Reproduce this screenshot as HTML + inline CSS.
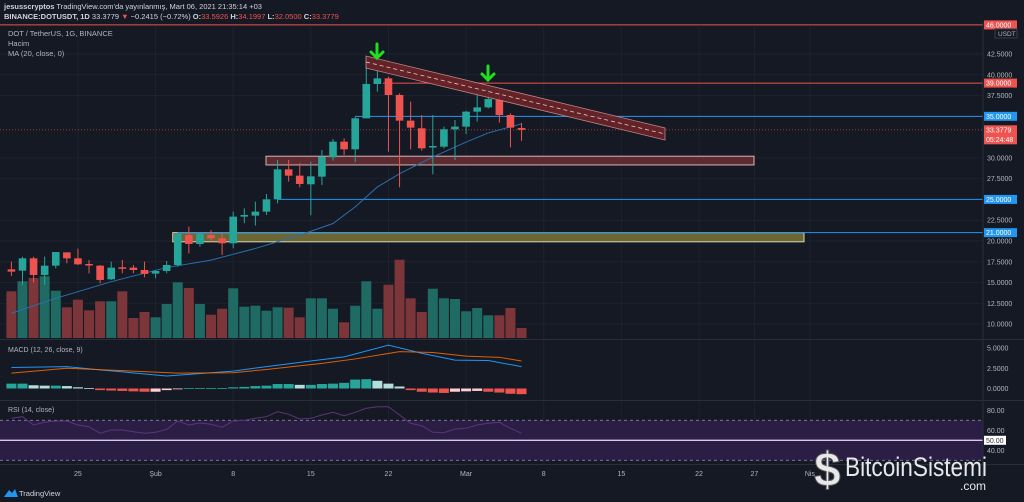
<!DOCTYPE html>
<html><head><meta charset="utf-8"><style>
html,body{margin:0;padding:0;background:#151924;width:1024px;height:502px;overflow:hidden}
svg{display:block;font-family:"Liberation Sans",sans-serif}
</style></head><body>
<svg id="c" width="1024" height="502" viewBox="0 0 1024 502" xmlns="http://www.w3.org/2000/svg">
<rect x="0" y="0" width="1024" height="502" fill="#151924"/>
<g id="grid"></g>
<text x="4" y="9" font-size="7.5" fill="#d1d4dc"><tspan font-weight="bold">jesusscryptos</tspan> TradingView.com'da yayınlanmış, Mart 06, 2021 21:35:14 +03</text>
<text x="4" y="19" font-size="7.5" fill="#d1d4dc" font-weight="bold">BINANCE:DOTUSDT, 1D <tspan font-weight="normal">33.3779</tspan> <tspan fill="#ef5350">▼</tspan> <tspan font-weight="normal">−0.2415 (−0.72%)</tspan> O:<tspan fill="#ef5350" font-weight="normal">33.5926</tspan> H:<tspan fill="#ef5350" font-weight="normal">34.1997</tspan> L:<tspan fill="#ef5350" font-weight="normal">32.0500</tspan> C:<tspan fill="#ef5350" font-weight="normal">33.3779</tspan></text>
<text x="8" y="36" font-size="7.5" fill="#b2b5be">DOT / TetherUS, 1G, BINANCE</text>
<text x="8" y="46" font-size="7.5" fill="#b2b5be">Hacim</text>
<text x="8" y="56" font-size="7.5" fill="#b2b5be">MA (20, close, 0)</text>
<g id="draw"></g>
<line x1="983" y1="22" x2="983" y2="480" stroke="#2a2e39" stroke-width="1"/>
<line x1="0" y1="339.5" x2="1024" y2="339.5" stroke="#2a2e39"/>
<line x1="0" y1="400.5" x2="1024" y2="400.5" stroke="#2a2e39"/>
<line x1="0" y1="464.5" x2="1024" y2="464.5" stroke="#2a2e39"/>
<text x="8" y="352" font-size="7" fill="#b2b5be">MACD (12, 26, close, 9)</text>
<text x="8" y="412" font-size="7" fill="#b2b5be">RSI (14, close)</text>
<g><path d="M4 497 L9 490 L12 493 L15 489 L18 497 Z" fill="#2196f3"/><text x="19" y="496" font-size="7.5" fill="#d1d4dc">TradingView</text></g>
<g id="wm">
<text x="814" y="486" font-size="48" font-weight="bold" fill="#e8e8ec" stroke="#555" stroke-width="1">$</text>
<text x="845" y="476" font-size="27" fill="#e8e8ec" textLength="142" lengthAdjust="spacingAndGlyphs">BitcoinSistemi</text>
<text x="960" y="490" font-size="12" fill="#e8e8ec">.com</text>
</g>
</svg>
<script>
const opens=[16.59,16.43,17.91,15.91,17.03,18.63,17.91,17.23,17.03,15.39,16.83,16.79,16.51,16.07,16.39,17.11,20.72,19.64,20.72,20.32,19.72,22.93,23.05,23.53,25.01,28.62,27.86,26.82,27.74,30.07,31.95,31.03,34.76,38.89,39.57,37.57,34.48,33.56,31.27,31.35,33.44,33.76,35.56,36.08,36.97,35.16,33.5926];
const highs=[17.51,18.11,18.11,18.11,18.67,18.63,19.08,17.71,17.11,17.51,17.71,17.11,17.51,16.51,17.59,21.0,21.72,21.0,21.32,20.92,23.53,23.93,24.73,25.66,29.75,29.75,29.35,29.55,30.95,32.27,32.35,34.96,42.2,40.58,39.77,37.77,36.77,35.16,35.16,33.76,34.56,35.68,37.77,38.57,38.25,35.36,34.1997];
const lows=[15.79,14.71,14.99,14.71,16.71,17.31,17.11,16.11,14.91,15.31,16.11,16.11,15.63,15.51,16.11,16.91,18.52,19.32,19.92,18.32,19.12,22.13,21.85,23.13,24.53,27.14,26.46,23.09,26.74,29.67,30.35,29.47,34.76,37.97,30.75,26.46,31.03,30.87,28.02,31.15,29.75,32.88,34.36,35.96,34.24,31.27,32.05];
const closes=[16.31,17.91,15.91,17.03,18.67,17.91,17.19,17.07,15.31,16.79,16.67,16.51,16.03,16.39,17.11,20.84,19.64,20.84,20.32,19.72,22.93,23.13,23.53,25.01,28.62,27.86,26.86,27.78,30.15,31.95,31.03,34.76,38.89,39.57,37.57,34.48,33.64,31.15,31.43,33.44,33.76,35.56,36.08,37.09,35.16,33.64,33.3779];
const volumes=[46.7,56.7,60,61.7,47.3,30.7,38.3,27.7,36.7,36.7,46.7,20,26,20.7,34,55.7,50,34,23.3,29.3,49.7,31.3,32.3,27.3,30.7,30.3,20.7,39.7,39.7,29.3,15.7,32.3,56.7,29.3,53.3,78.3,39.7,26,49.3,39.7,39,26.7,30,22.7,22.7,30,10];
const maIdx=[0,4,9,14,18,22,26,29,31,33,35,38,41,43,46];
const maVals=[11.3,13.1,15.1,16.8,17.7,19.1,20.7,22.1,24.1,26.5,28.1,30.1,31.9,33.0,34.1];
const macdIdx=[0,5,8,14,20,23,27,30,34,37,40,43,46];
const macdVals=[2.6,2.7,2.3,1.55,2.15,2.7,3.4,3.9,5.35,4.35,3.5,3.45,2.7];
const sigIdx=[0,5,10,15,20,23,28,31,35,38,41,44,46];
const sigVals=[1.9,2.5,2.2,1.9,1.95,2.35,3.1,3.65,4.55,4.45,4.0,3.85,3.4];
const histVals=[0.6,0.6,0.4,0.35,0.35,0.3,0.15,0.05,-0.2,-0.25,-0.3,-0.35,-0.4,-0.4,-0.2,-0.1,0.05,0.05,0.05,0.05,0.15,0.2,0.3,0.35,0.55,0.55,0.45,0.45,0.55,0.6,0.7,1.1,1.15,0.95,0.6,0.25,-0.2,-0.4,-0.5,-0.55,-0.4,-0.35,-0.3,-0.4,-0.5,-0.65,-0.7];
const rsiVals=[72,73.6,65.3,68,69.3,69.3,65.3,63.6,57,60.3,60.3,58.6,57,58,61,69.3,65.3,67.3,66,63,69.3,70,72,73.6,78.6,76,71.3,72,75.3,78,74.6,78,82,83.6,83.6,75.3,67,64.6,58,57.6,61.3,62,65.3,67,68,62,57];
const priceTicks=[42.5,40,37.5,30,27.5,22.5,20,17.5,15,12.5,10];
const macdTicks=[5,2.5,0];
const rsiTicks=[80,60,40];
const timeLabels=["25","Şub","8","15","22","Mar","8","15","22","27","Nis"];
const timeIdx=[6,13,20,27,34,41,48,55,62,67,72];
const levelVals=[46,39,35,25,21];
const levelColors=["#ef5350","#ef5350","#2196f3","#2196f3","#2196f3"];
const levelStartIdx=[-2,33.5,31,24,15];

const X=i=>11.4+i*11.09;
const Y=p=>54+(42.5-p)*8.31;
const YV=v=>338-v;
const YM=v=>388.5-v*8.1;
const YR=v=>490.3-v;
const NS="http://www.w3.org/2000/svg";
const g=document.getElementById('draw');
const grid=document.getElementById('grid');
function mk(t,a,p){const e=document.createElementNS(NS,t);for(const k in a)e.setAttribute(k,a[k]);(p||g).appendChild(e);return e;}

timeIdx.forEach((ti)=>{const l=mk('line',{x1:X(ti),x2:X(ti),y1:27,y2:464,stroke:'#1e222d'},grid);

});
priceTicks.forEach(p=>{const l=mk('line',{x1:0,x2:983,y1:Y(p),y2:Y(p),stroke:'#1e222d'},grid);

});

const band=mk('rect',{x:0,y:YR(70),width:983,height:YR(30)-YR(70),fill:'#2a1e45'});


[70,30].forEach(v=>{const l=mk('line',{x1:0,x2:983,y1:YR(v),y2:YR(v),stroke:'#8a80a8','stroke-dasharray':'3,3','stroke-width':0.8});

});
const mid=mk('line',{x1:0,x2:983,y1:YR(50),y2:YR(50),stroke:'#d8c8f0','stroke-width':1.4});



volumes.forEach((v,i)=>{const up=closes[i]>=opens[i];
const r=mk('rect',{x:X(i)-5,y:YV(v),width:10,height:v,fill:up?'#1f6a63':'#7c3538'});

});

const b1=mk('rect',{x:266,y:Y(30.2),width:488,height:Y(29.15)-Y(30.2),fill:'#5c2a30',stroke:'#d6b4b4','stroke-width':1});


const b2=mk('rect',{x:X(15)-5,y:Y(21),width:804-X(15)+5,height:Y(19.9)-Y(21),fill:'#6b6633',stroke:'#d8d8b8','stroke-width':1});



levelVals.forEach((v,k)=>{const l=mk('line',{x1:levelStartIdx[k]<0?0:X(levelStartIdx[k]),x2:983,y1:Y(v),y2:Y(v),stroke:levelColors[k],'stroke-width':1});

});
const lp=mk('line',{x1:0,x2:983,y1:Y(closes[46]),y2:Y(closes[46]),stroke:'#ef5350','stroke-dasharray':'1,2','stroke-width':0.8,opacity:0.7});



const ma=mk('path',{d:maIdx.map((ix,k)=>(k?'L':'M')+X(ix)+' '+Y(maVals[k])).join(' '),fill:'none',stroke:'#2a6fb0','stroke-width':1});



opens.forEach((o,i)=>{const c=closes[i],up=c>=o,col=up?'#26a69a':'#ef5350';
const w=mk('line',{x1:X(i),x2:X(i),y1:Y(highs[i]),y2:Y(lows[i]),stroke:col,'stroke-width':1});


const top=Y(Math.max(o,c)),h=Math.max(1.5,Y(Math.min(o,c))-top);
const b=mk('rect',{x:X(i)-3.8,y:top,width:7.6,height:h,fill:col});

});

const ch=mk('polygon',{points:'366,56 665,128 665,140 366,68',fill:'#6b2428',stroke:'#d09090','stroke-width':0.8,opacity:0.9});


const chm=mk('line',{x1:366,y1:62,x2:665,y2:134,stroke:'#e8c8c8','stroke-dasharray':'4,3','stroke-width':0.8});


[[377,44],[488,66]].forEach(a=>{const p=mk('path',{d:`M${a[0]} ${a[1]} L${a[0]} ${a[1]+14} M${a[0]-6} ${a[1]+8} L${a[0]} ${a[1]+14} L${a[0]+6} ${a[1]+8}`,fill:'none',stroke:'#1fe01f','stroke-width':3,'stroke-linecap':'round'});

});

histVals.forEach((v,i)=>{const prev=i?histVals[i-1]:v;let col;
if(v>=0)col=v>=prev?'#26a69a':'#b2dfdb';else col=v<prev?'#ef5350':'#ffcdd2';
const y=v>=0?YM(v):YM(0);const r=mk('rect',{x:X(i)-5,y:y,width:10,height:Math.max(0.8,Math.abs(YM(v)-YM(0))),fill:col});

});
const mpath=mk('path',{d:macdIdx.map((ix,k)=>(k?'L':'M')+X(ix)+' '+YM(macdVals[k])).join(' '),fill:'none',stroke:'#2196f3','stroke-width':1});


const spath=mk('path',{d:sigIdx.map((ix,k)=>(k?'L':'M')+X(ix)+' '+YM(sigVals[k])).join(' '),fill:'none',stroke:'#ff6d00','stroke-width':1,opacity:0.85});


const rp=mk('path',{d:rsiVals.map((v,i)=>(i?'L':'M')+X(i)+' '+YR(v)).join(' '),fill:'none',stroke:'#5e3478','stroke-width':1});



function txt(x,y,s,fill,size,name,anchor){const t=mk('text',{x:x,y:y,'font-size':size||7,fill:fill||'#b2b5be','text-anchor':anchor||'start'});t.textContent=s;

return t;}
priceTicks.forEach(p=>txt(987,Y(p)+2.5,p.toFixed(4),'#b2b5be',7,'price-tick'));
macdTicks.forEach(v=>txt(987,YM(v)+2.5,v.toFixed(4),'#b2b5be',7,'macd-tick'));
rsiTicks.forEach(v=>txt(987,YR(v)+2.5,v.toFixed(2),'#b2b5be',7,'rsi-tick'));
timeLabels.forEach((s,k)=>txt(X(timeIdx[k]),476,s,'#b2b5be',7,'time-tick','middle'));
function lab(v,col,extra){const y=Y(v);const h=extra?19:9;
const r=mk('rect',{x:984,y:y-4.5,width:33,height:h,fill:col});


txt(986,y+2.5,v.toFixed(4),'#ffffff',7,'price-label');
if(extra)txt(986,y+12,extra,'#ffffff',7,'countdown-label');}
levelVals.forEach((v,k)=>lab(v,levelColors[k]));
lab(closes[46],'#ef5350','05:24:48');
const u=mk('rect',{x:995,y:29,width:22,height:9,fill:'none',stroke:'#363a45'});


txt(998,36,'USDT','#b2b5be',6.5,'currency-label');
const r50=mk('rect',{x:984,y:YR(50)-4.5,width:22,height:9,fill:'#ffffff'});


txt(986,YR(50)+2.5,'50.00','#333',7,'rsi-50-label');
document.getElementById('c').appendChild(document.getElementById('wm'));
</script>
</body></html>
